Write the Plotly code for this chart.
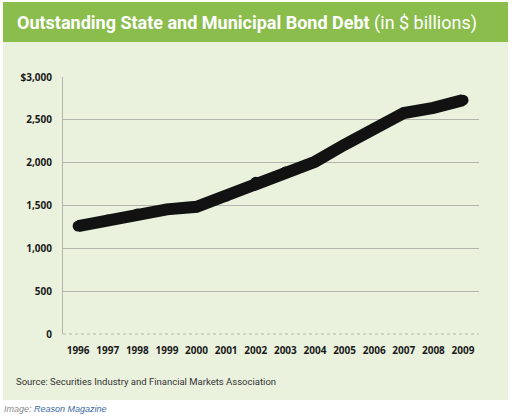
import plotly.graph_objects as go

# values ($ billions)
years = [1996, 1997, 1998, 1999, 2000, 2001, 2002, 2003, 2004, 2005, 2006, 2007, 2008, 2009]
debt = [1260, 1330, 1400, 1455, 1485, 1610, 1770, 1890, 2010, 2210, 2400, 2580, 2640, 2730]

y_ticks = [0, 500, 1000, 1500, 2000, 2500, 3000]
y_labels = ["0", "500", "1,000", "1,500", "2,000", "2,500", "$3,000"]

title_bold = "Outstanding State and Municipal Bond Debt"
title_rest = "(in $ billions)"
source = "Source: Securities Industry and Financial Markets Association"

GREEN = "#8bbd4d"
LIGHT = "#eaf2dd"
GRID = "#b4b6ac"

fig = go.Figure()
fig.add_trace(go.Scatter(
    x=years, y=debt, mode="lines+markers",
    line=dict(color="#121212", width=12),
    marker=dict(color="#121212", size=11),
    hoverinfo="x+y",
))

# plot area is px 63..479 wide, 77..334 high -> paper coords for decorations
def px_x(p):
    return (p - 63) / 416

def px_y(p):
    return (334 - p) / 257

fig.add_shape(type="rect", xref="paper", yref="paper", layer="below",
              x0=px_x(3), x1=px_x(508), y0=px_y(400), y1=px_y(42),
              fillcolor=LIGHT, line=dict(width=0))
fig.add_shape(type="rect", xref="paper", yref="paper", layer="below",
              x0=px_x(3), x1=px_x(508), y0=px_y(42), y1=px_y(2),
              fillcolor=GREEN, line=dict(width=0))
# dotted baseline at zero
fig.add_shape(type="line", xref="paper", yref="paper", layer="below",
              x0=0, x1=1, y0=0, y1=0, line=dict(color=GRID, width=1, dash="dot"))

fig.add_annotation(xref="paper", yref="paper", x=px_x(15), y=px_y(23),
                   xanchor="left", yanchor="middle", showarrow=False,
                   text="<b>" + title_bold + "</b> " + title_rest,
                   font=dict(family="Roboto", size=18, color="white"))
fig.add_annotation(xref="paper", yref="paper", x=px_x(14), y=px_y(381),
                   xanchor="left", yanchor="middle", showarrow=False,
                   text=source,
                   font=dict(family="Roboto", size=9.5, color="#333333"))
fig.add_annotation(xref="paper", yref="paper", x=px_x(2), y=px_y(409),
                   xanchor="left", yanchor="middle", showarrow=False,
                   text="<i><span style='color:#8a8a8a'>Image:</span> "
                        "<span style='color:#3c6ba3'>Reason Magazine</span></i>",
                   font=dict(family="Liberation Sans", size=9))

fig.update_layout(
    width=512, height=416,
    margin=dict(l=63, r=33, t=77, b=82),
    paper_bgcolor="white", plot_bgcolor=LIGHT,
    showlegend=False,
    xaxis=dict(range=[1995.49, 2009.54], tickvals=years, showgrid=False,
               showline=False, zeroline=False,
               ticklabelstandoff=9,
               tickfont=dict(family="Open Sans", size=10, color="#1a1a1a", weight="bold")),
    yaxis=dict(range=[0, 3000], tickvals=y_ticks, ticktext=y_labels,
               showgrid=True, gridcolor=GRID, gridwidth=1,
               showline=True, linecolor=GRID, linewidth=1, zeroline=False,
               ticklabelstandoff=8,
               tickfont=dict(family="Open Sans", size=10, color="#1a1a1a", weight="bold")),
)

# page body has a default 8px margin; drop it so the figure sits at the window corner
fig.write_html("out.html", config={"displayModeBar": False},
               post_script="document.body.style.margin='0';")
